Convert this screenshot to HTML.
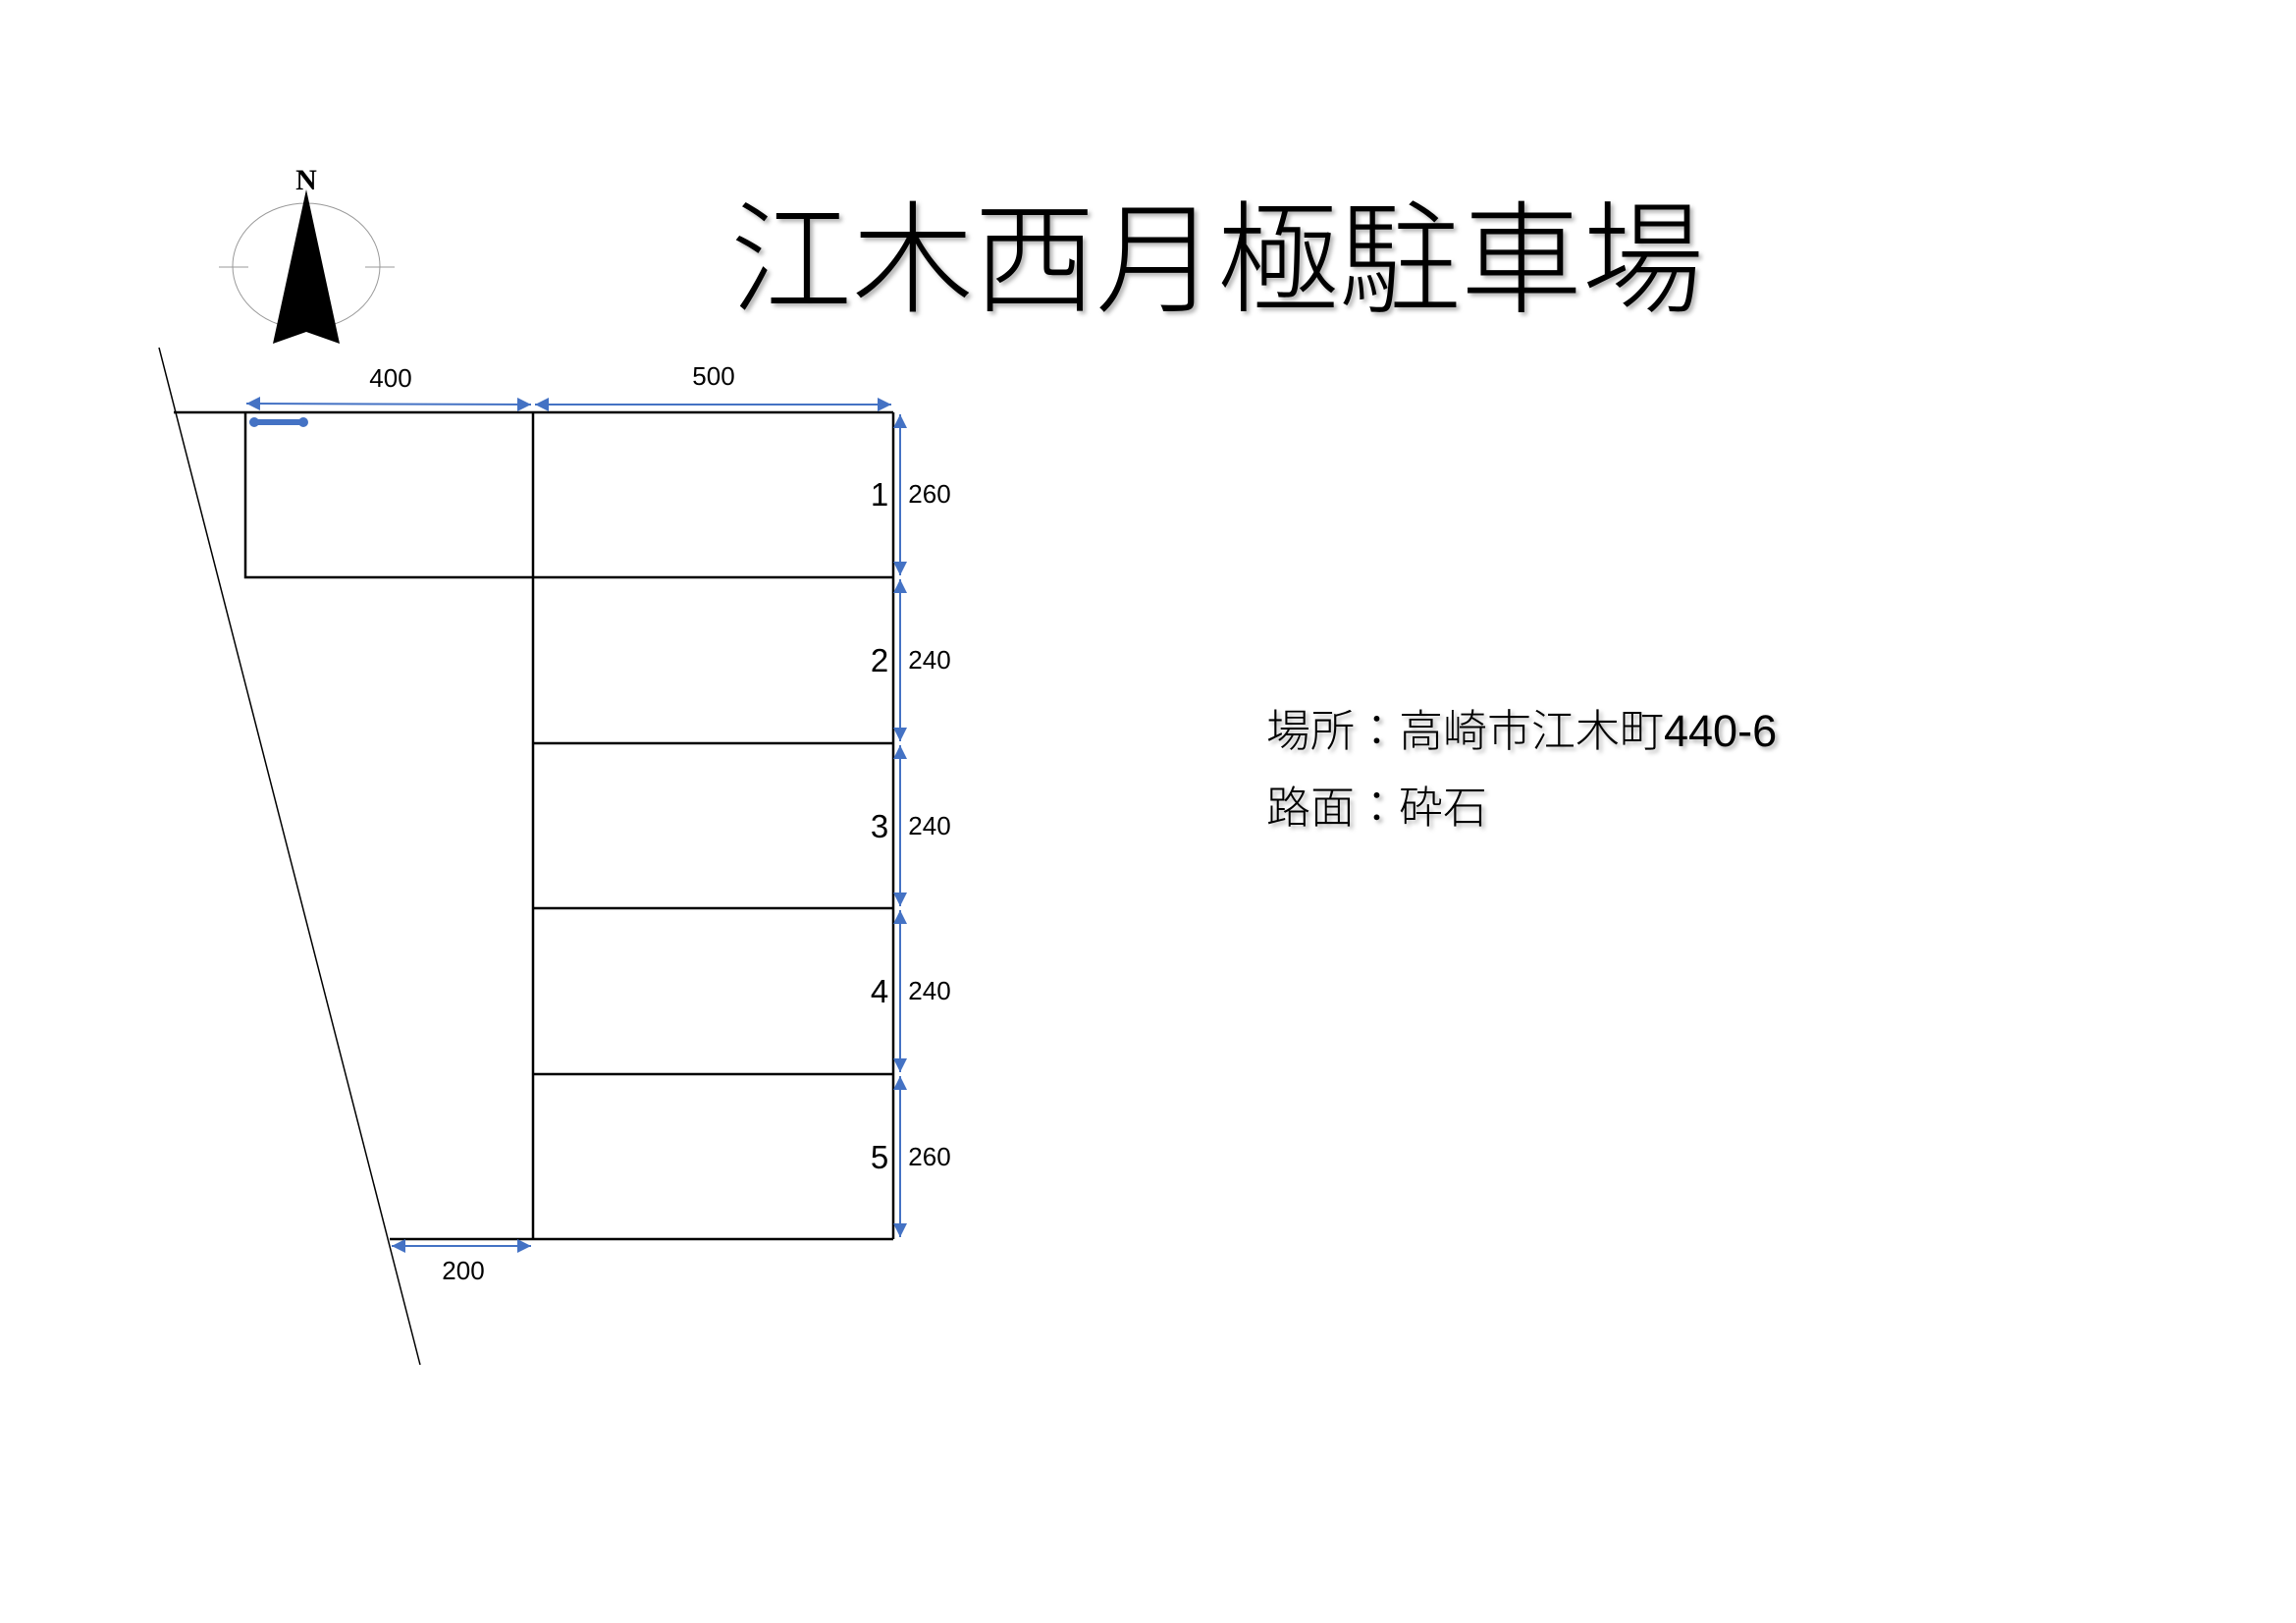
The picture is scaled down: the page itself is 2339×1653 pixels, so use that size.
<!DOCTYPE html>
<html><head><meta charset="utf-8"><style>
html,body{margin:0;padding:0;background:#fff}
svg{display:block}
.t{font-family:"Liberation Sans","Noto Sans CJK JP",sans-serif}
</style></head><body>
<svg width="2339" height="1653" viewBox="0 0 2339 1653" xmlns="http://www.w3.org/2000/svg">
<defs>
<filter id="sh" x="-5%" y="-5%" width="110%" height="120%"><feDropShadow dx="3" dy="3" stdDeviation="2" flood-color="#000" flood-opacity="0.3"/></filter>
<marker id="a" viewBox="0 0 10 10" refX="10" refY="5" markerWidth="7" markerHeight="7" orient="auto-start-reverse" markerUnits="strokeWidth"><path d="M0,0 L10,5 L0,10 z" fill="#4472C4"/></marker>
</defs>
<!-- compass -->
<ellipse cx="312" cy="271" rx="75" ry="64" fill="none" stroke="#999" stroke-width="1"/>
<line x1="223" y1="272" x2="253" y2="272" stroke="#999" stroke-width="1"/>
<line x1="372" y1="272" x2="402" y2="272" stroke="#999" stroke-width="1"/>
<polygon points="312,193 346,350 312,338 278,350" fill="#000"/>
<text x="312" y="193" font-weight="bold" font-size="30" text-anchor="middle" style="font-family:'Liberation Serif',serif">N</text>
<!-- title -->
<text x="1240" y="308" class="t" font-size="124" font-weight="300" text-anchor="middle" filter="url(#sh)">江木西月極駐車場</text>
<!-- info -->
<text x="1290" y="760" class="t" font-size="45" font-weight="300" filter="url(#sh)">場所：高崎市江木町440-6</text>
<text x="1290" y="838" class="t" font-size="45" font-weight="300" filter="url(#sh)">路面：砕石</text>
<!-- diagonal -->
<line x1="162" y1="354" x2="428" y2="1390" stroke="#000" stroke-width="1.5"/>
<!-- lot lines -->
<g stroke="#000" stroke-width="2.5" fill="none">
<line x1="177" y1="420" x2="910" y2="420"/>
<polyline points="250,420 250,588 543,588"/>
<line x1="543" y1="420" x2="543" y2="1262"/>
<line x1="910" y1="420" x2="910" y2="1262"/>
<line x1="543" y1="588" x2="910" y2="588"/>
<line x1="543" y1="757" x2="910" y2="757"/>
<line x1="543" y1="925" x2="910" y2="925"/>
<line x1="543" y1="1094" x2="910" y2="1094"/>
<line x1="397" y1="1262" x2="910" y2="1262"/>
</g>
<!-- blue bar -->
<line x1="259" y1="430" x2="309" y2="430" stroke="#4472C4" stroke-width="6" stroke-linecap="round"/>
<circle cx="259" cy="430" r="5" fill="#4472C4"/><circle cx="309" cy="430" r="5" fill="#4472C4"/>
<!-- dims -->
<g stroke="#4472C4" stroke-width="2" fill="none" marker-start="url(#a)" marker-end="url(#a)">
<line x1="251" y1="411" x2="541" y2="412"/>
<line x1="545" y1="412" x2="908" y2="412"/>
<line x1="917" y1="422" x2="917" y2="586"/>
<line x1="917" y1="590" x2="917" y2="755"/>
<line x1="917" y1="759" x2="917" y2="923"/>
<line x1="917" y1="927" x2="917" y2="1092"/>
<line x1="917" y1="1096" x2="917" y2="1260"/>
<line x1="399" y1="1269" x2="541" y2="1269"/>
</g>
<g class="t" font-size="26" text-anchor="middle" fill="#000">
<text x="398" y="394">400</text>
<text x="727" y="392">500</text>
<text x="947" y="512">260</text>
<text x="947" y="681">240</text>
<text x="947" y="850">240</text>
<text x="947" y="1018">240</text>
<text x="947" y="1187">260</text>
<text x="472" y="1303">200</text>
</g>
<g class="t" font-size="33" text-anchor="middle" fill="#000">
<text x="896" y="515">1</text>
<text x="896" y="684">2</text>
<text x="896" y="853">3</text>
<text x="896" y="1021">4</text>
<text x="896" y="1190">5</text>
</g>
</svg>
</body></html>
